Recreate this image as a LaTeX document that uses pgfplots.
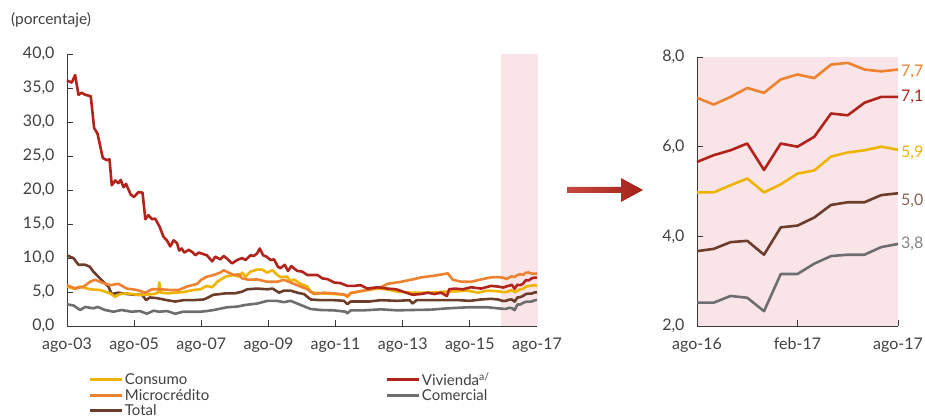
\documentclass[border=0pt]{standalone}
\usepackage{pgfplots}
\pgfplotsset{compat=1.18}
\usepackage{fontspec}
\setmainfont{Lato}

\definecolor{consumo}{HTML}{EFB400}
\definecolor{micro}{HTML}{EE8230}
\definecolor{vivienda}{HTML}{B2231B}
\definecolor{comercial}{HTML}{6E6E70}
\definecolor{total}{HTML}{6D3D2C}
\definecolor{pinkbg}{HTML}{F9E5E7}
\definecolor{txt}{HTML}{404040}
\definecolor{axisgray}{HTML}{3A3A3A}
\definecolor{arrowL}{HTML}{C5483E}
\definecolor{arrowR}{HTML}{A3231B}

\pgfplotsset{
  panel/.style={
    scale only axis,
    axis lines*=left,
    axis line style={draw=axisgray, line width=0.8pt},
    tick style={draw=axisgray, line width=0.8pt},
    tick align=inside,
    major tick length=6pt,
    tick label style={font=\fontsize{16}{18}\selectfont, text=txt},
    xticklabel style={yshift=-8pt},
    yticklabel style={xshift=-9pt, /pgf/number format/.cd, fixed, fixed zerofill,
      precision=1, use comma, assume math mode=true},
    every axis plot/.append style={line width=2.6pt, line join=round},
    clip=false,
  },
}

\begin{document}
\begin{tikzpicture}
\useasboundingbox (0pt,0pt) rectangle (925pt,417pt);
\node[anchor=west, font=\fontsize{15.5}{17}\selectfont, text=txt, inner sep=0pt] at (11pt,397pt) {(porcentaje)};

% left panel: 2003-2017, months since ago-03
\begin{axis}[panel,
  at={(67pt,91pt)}, anchor=south west,
  width=470pt, height=272pt,
  xmin=0, xmax=168, ymin=0, ymax=40,
  xtick={0,24,...,168},
  xticklabels={ago-03,ago-05,ago-07,ago-09,ago-11,ago-13,ago-15,ago-17},
  ytick={0,5,...,40},
  legend columns=2,
  legend cell align=left,
  legend style={at={(0.045,-0.166)}, anchor=north west, draw=none, fill=none,
    font=\fontsize{15}{17}\selectfont, text=txt, inner sep=0pt, row sep=0pt,
    nodes={inner ysep=1.2pt},
    /tikz/every even column/.append style={column sep=174pt}},
  legend image code/.code={\draw[line width=2.6pt] (0pt,0pt) -- (32pt,0pt);},
]
\fill[pinkbg] (axis cs:155,0) rectangle (axis cs:168.5,40);

\addplot[comercial, forget plot] coordinates {
(0,3.2) (2.4,3.0) (4.7,2.35) (6.5,2.8) (9.4,2.6) (11,2.8) (13.6,2.35) (16.6,2.1)
(19.5,2.35) (23.1,2.1) (26,2.2) (28.6,1.8) (30.9,2.25) (33,2.1) (35.7,2.2) (38.7,1.8)
(41.5,2.1) (45.3,2.1) (47.7,2.1) (50,2.2) (52.4,2.35) (57.2,2.75) (60.8,2.85) (63.8,3.1)
(68,3.3) (71.6,3.7) (75,3.7) (77.5,3.5) (79.9,3.7) (82.3,3.3) (84.7,2.9) (87.1,2.5)
(90.7,2.35) (95.5,2.3) (99.6,2.1) (100.2,1.85) (101.4,2.3) (106,2.3) (112.2,2.45) (118,2.3)
(123,2.35) (130,2.4) (136.1,2.6) (143.3,2.75) (150.4,2.75) (154,2.6)
(156,2.52) (157,2.52) (158,2.67) (159,2.63) (160,2.33) (161,3.16) (162,3.16) (163,3.39)
(164,3.56) (165,3.59) (166,3.59) (167,3.76) (168,3.83)};

\addplot[total, forget plot] coordinates {
(0,10.4) (2.4,9.95) (4.1,9.0) (6.5,9.0) (8.2,8.7) (9.4,8.0) (11.2,7.25) (13,6.5)
(14.8,5.8) (16,4.7) (18.4,4.9) (21.4,4.7) (24,4.6) (26.8,4.6) (28.3,3.8) (29.6,4.2)
(32.1,4.1) (35.7,3.8) (38.7,3.6) (41.7,3.8) (45,3.8) (48.9,3.9) (50,4.1) (52.4,4.6)
(54.8,4.7) (56.6,4.8) (60,4.8) (62.6,5.05) (64.4,5.4) (68,5.5) (71.6,5.4) (73.5,5.5)
(75.8,4.9) (77.5,5.2) (80,5.2) (82.3,4.9) (84.7,4.7) (87.1,3.9) (90.7,3.8) (95.5,3.8)
(99,3.7) (100.2,3.2) (101.4,3.6) (104,3.6) (108,3.6) (112.2,3.8) (118,3.7) (122.5,3.8)
(123.5,3.3) (125,3.8) (130,3.8) (134.9,3.8) (140,3.8) (144,3.7) (148,3.9) (151.6,4.0) (154,3.9)
(156,3.67) (157,3.72) (158,3.87) (159,3.90) (160,3.59) (161,4.20) (162,4.24) (163,4.42)
(164,4.70) (165,4.76) (166,4.76) (167,4.92) (168,4.96)};

\addplot[consumo, forget plot] coordinates {
(0,5.8) (2.4,5.5) (4.7,5.8) (8.2,5.4) (11.8,5.3) (15.4,4.8) (17.2,4.3) (19,4.7)
(21.4,4.8) (25,4.6) (28,4.6) (30.9,4.7) (32.6,4.9) (33,6.4) (33.5,4.9) (36,4.8)
(38.7,4.9) (41.7,5.0) (45.3,5.3) (47.7,5.4) (50,5.9) (51.9,5.7) (53.7,6.5) (56.6,7.25)
(59.6,7.5) (61.4,7.25) (62.6,7.85) (63.8,7.25) (65.6,8.0) (68,8.3) (69.7,8.3) (71.6,7.85)
(73.4,8.2) (75.2,7.5) (76.3,7.2) (78.7,7.25) (79.9,6.6) (81.1,6.85) (83.5,6.2) (85.9,5.8)
(87.1,5.0) (88.3,4.9) (90.7,4.8) (95.5,4.7) (99.1,4.6) (100.2,4.3) (101.4,4.9) (102.6,4.9)
(106.2,5.2) (111,5.5) (114,5.4) (118.2,5.05) (123,4.9) (130,4.9) (134.9,5.05) (139,5.1)
(143.3,5.2) (146.8,4.9) (150.4,5.2) (154,5.1)
(156,4.98) (157,4.98) (158,5.14) (159,5.29) (160,4.98) (161,5.16) (162,5.40) (163,5.47)
(164,5.78) (165,5.87) (166,5.92) (167,6.00) (168,5.93)};

\addplot[micro, forget plot] coordinates {
(0,6.0) (3,5.5) (6,5.8) (8.2,6.5) (10,6.8) (13,6.3) (15.4,6.0) (18.4,6.2)
(21.4,5.5) (25,5.3) (28,4.9) (30.4,5.4) (33.3,5.4) (36.9,5.3) (39.9,5.3) (42.9,5.8)
(46.5,6.2) (48,6.8) (50,7.25) (52.4,7.5) (54.8,7.85) (56,8.2) (57.7,7.85) (59.6,7.5)
(61.4,7.6) (62.6,7.0) (65,6.8) (68,6.85) (71.6,6.5) (75.2,6.5) (77.5,6.8) (79.9,6.4)
(83.5,5.8) (85.9,5.4) (88.3,4.7) (91.9,4.9) (95.5,4.8) (99.6,4.6) (100.2,4.3) (101.4,4.8)
(103.8,5.05) (108.6,5.4) (112.2,5.7) (114.6,6.2) (119.4,6.5) (124.1,6.9) (126.5,7.15) (131.3,7.4)
(134.9,7.65) (136.1,7.75) (137.9,6.8) (141,6.5) (144.4,6.5) (148,6.85) (151.6,7.15) (154,7.2)
(156,7.09) (157,6.94) (158,7.11) (159,7.31) (160,7.20) (161,7.50) (162,7.61) (163,7.53)
(164,7.83) (165,7.87) (166,7.72) (167,7.68) (168,7.72)};

\addplot[vivienda, forget plot] coordinates {
(0,36.1) (1.7,35.8) (2.9,36.9) (4.1,34.0) (5.3,34.3) (6.5,34.0) (8.5,33.8) (9.7,29.1)
(10.9,28.3) (12.8,24.7) (14.2,24.4) (15.2,24.5) (16,20.7) (17.2,21.4) (18.4,21.0) (19.2,21.5)
(20.2,20.4) (21.1,20.9) (22.8,19.3) (24,19.0) (25.6,19.7) (27,19.6) (28,15.7) (29.1,16.3)
(30.4,15.7) (31.5,15.8) (33.1,14.6) (34.5,13.1) (35.7,12.6) (36.9,11.7) (38.1,12.6) (39.3,12.2)
(40.1,11.1) (41,11.4) (41.9,10.8) (43.5,11.2) (44.7,10.9) (45.9,10.4) (47.1,10.8) (48.5,10.6)
(50,10.4) (51.9,9.5) (53,10.2) (54.8,9.8) (56,10.3) (57.2,9.9) (59,9.2) (60.8,9.7)
(62.6,10.0) (63.8,9.7) (65.6,10.4) (66.8,10.3) (68,10.7) (68.9,11.4) (70.1,10.4) (71.3,10.2)
(72.8,9.7) (74,9.8) (75.4,8.7) (76.3,8.5) (77.8,9.0) (79,8.1) (80.2,8.8) (82.3,8.1)
(84.1,8.0) (85.9,7.5) (87.7,7.5) (89.5,7.5) (91.3,7.0) (93.1,6.9) (95.5,6.4) (97.8,6.3)
(100.2,5.9) (102.6,5.9) (105,6.0) (107.4,5.5) (111,5.7) (114.6,5.5) (117.6,5.4) (120.5,5.0)
(123.5,4.6) (126.5,4.7) (129,4.9) (131.3,4.7) (133.7,4.9) (135.8,4.4) (136.6,5.4) (138.5,5.5)
(141.5,5.4) (144.4,5.7) (148,5.5) (151.6,5.9) (154,5.8)
(156,5.66) (157,5.81) (158,5.92) (159,6.07) (160,5.48) (161,6.07) (162,6.00) (163,6.22)
(164,6.74) (165,6.70) (166,6.98) (167,7.11) (168,7.11)};

\addlegendimage{consumo}\addlegendentry{Consumo}
\addlegendimage{vivienda}\addlegendentry{Vivienda\textsuperscript{a/}}
\addlegendimage{micro}\addlegendentry{Microcrédito}
\addlegendimage{comercial}\addlegendentry{Comercial}
\addlegendimage{total}\addlegendentry{Total}
\end{axis}

% arrow between the panels
\shade[left color=arrowL, right color=arrowR]
  (567pt,224pt) -- (621pt,224pt) -- (621pt,215pt) -- (643pt,227pt)
  -- (621pt,239pt) -- (621pt,230pt) -- (567pt,230pt) -- cycle;

% right panel: ago-16 to ago-17
\begin{axis}[panel,
  at={(697pt,91pt)}, anchor=south west,
  width=201pt, height=269pt,
  xmin=0, xmax=12, ymin=2, ymax=8,
  xtick={0,6,12}, xticklabels={ago-16,feb-17,ago-17},
  ytick={2,4,6,8},
  axis background/.style={fill=pinkbg},
]
\addplot[comercial] coordinates {(0,2.52) (1,2.52) (2,2.67) (3,2.63) (4,2.33) (5,3.16) (6,3.16) (7,3.39) (8,3.56) (9,3.59) (10,3.59) (11,3.76) (12,3.83)};
\addplot[total] coordinates {(0,3.67) (1,3.72) (2,3.87) (3,3.90) (4,3.59) (5,4.20) (6,4.24) (7,4.42) (8,4.70) (9,4.76) (10,4.76) (11,4.92) (12,4.96)};
\addplot[consumo] coordinates {(0,4.98) (1,4.98) (2,5.14) (3,5.29) (4,4.98) (5,5.16) (6,5.40) (7,5.47) (8,5.78) (9,5.87) (10,5.92) (11,6.00) (12,5.93)};
\addplot[vivienda] coordinates {(0,5.66) (1,5.81) (2,5.92) (3,6.07) (4,5.48) (5,6.07) (6,6.00) (7,6.22) (8,6.74) (9,6.70) (10,6.98) (11,7.11) (12,7.11)};
\addplot[micro] coordinates {(0,7.09) (1,6.94) (2,7.11) (3,7.31) (4,7.20) (5,7.50) (6,7.61) (7,7.53) (8,7.83) (9,7.87) (10,7.72) (11,7.68) (12,7.72)};
\begin{scope}[every node/.style={anchor=west, font=\fontsize{16}{18}\selectfont, inner sep=0pt, xshift=3pt}]
\node[text=micro] at (axis cs:12,7.66) {7,7};
\node[text=vivienda] at (axis cs:12,7.11) {7,1};
\node[text=consumo] at (axis cs:12,5.87) {5,9};
\node[text=total!80!white] at (axis cs:12,4.80) {5,0};
\node[text=comercial!85!white] at (axis cs:12,3.83) {3,8};
\end{scope}
\end{axis}
\end{tikzpicture}
\end{document}
